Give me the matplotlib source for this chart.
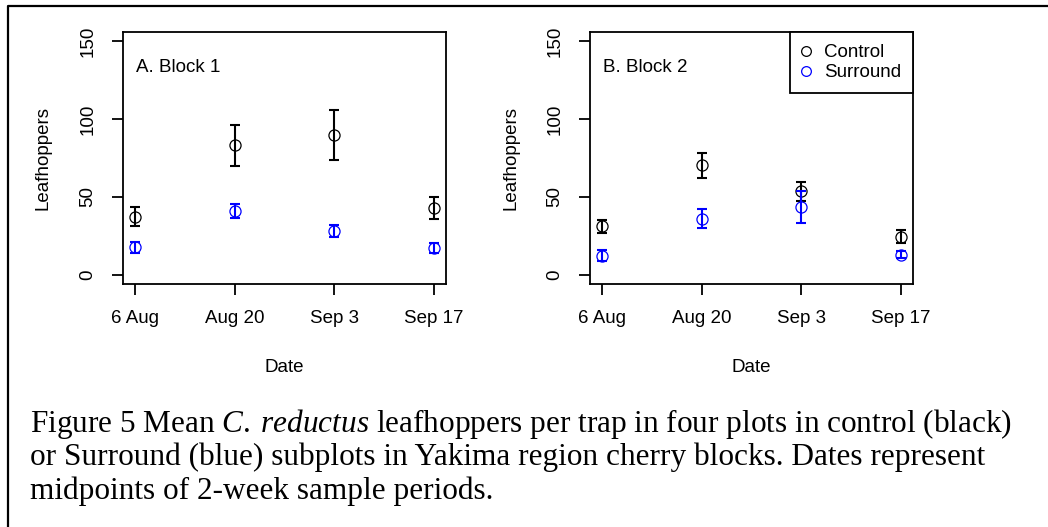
import matplotlib
matplotlib.use('Agg')
import matplotlib.pyplot as plt
from matplotlib.lines import Line2D

plt.rcParams['font.family'] = 'Liberation Sans'
plt.rcParams['mathtext.fontset'] = 'custom'
plt.rcParams['mathtext.rm'] = 'Liberation Serif'
plt.rcParams['mathtext.it'] = 'Liberation Serif:italic'

# sample dates (midpoints of 2-week periods)
dates = ['6 Aug', 'Aug 20', 'Sep 3', 'Sep 17']
x = [1, 2, 3, 4]

# Block 1: mean leafhoppers per trap and standard errors
b1_control = [37.3, 83.1, 89.8, 43.0]
b1_control_se = [6.1, 13.3, 15.8, 7.1]
b1_surround = [17.5, 41.0, 28.0, 17.1]
b1_surround_se = [3.3, 4.5, 4.0, 3.4]

# Block 2
b2_control = [31.0, 70.3, 53.6, 24.4]
b2_control_se = [4.0, 8.2, 6.1, 4.0]
b2_surround = [12.2, 36.1, 43.8, 12.8]
b2_surround_se = [3.6, 5.9, 10.3, 2.1]

W, H = 1048, 527
FS = 13.5
fig = plt.figure(figsize=(W / 100, H / 100), dpi=100)


def panel(left_px, title, ctrl, ctrl_se, surr, surr_se, ylab_x):
    top_px, bot_px, width_px = 32, 284, 323
    ax = fig.add_axes([left_px / W, 1 - bot_px / H,
                       width_px / W, (bot_px - top_px) / H])
    ax.errorbar(x, ctrl, yerr=ctrl_se, fmt='none', ecolor='black',
                elinewidth=1.5, capsize=3.6, capthick=1.5)
    ax.plot(x, ctrl, 'o', mfc='none', mec='black', ms=8, mew=0.9)
    ax.errorbar(x, surr, yerr=surr_se, fmt='none', ecolor='#0000ff',
                elinewidth=1.5, capsize=3.6, capthick=1.5)
    ax.plot(x, surr, 'o', mfc='none', mec='#0000ff', ms=8, mew=0.9)

    ax.set_xlim(0.88, 4.12)
    ax.set_ylim(-6, 156)
    ax.set_xticks(x)
    ax.set_xticklabels(dates, fontsize=FS)
    ax.set_yticks([0, 50, 100, 150])
    ax.set_yticklabels(['0', '50', '100', '150'], fontsize=FS,
                       rotation=90, va='center')
    ax.tick_params(direction='out', length=8, width=1.3, pad=11)
    for s in ax.spines.values():
        s.set_linewidth(1.3)

    ax.set_xlabel('Date', fontsize=FS)
    ax.xaxis.set_label_coords(0.5, -0.33)
    ax.xaxis.label.set_va('center')
    ax.set_ylabel('Leafhoppers', fontsize=FS)
    ax.yaxis.set_label_coords(ylab_x, 0.5)
    ax.yaxis.label.set_va('center')

    ax.text(0.04, 0.86, title, transform=ax.transAxes, fontsize=FS,
            va='center', ha='left')
    return ax


ax1 = panel(123, 'A. Block 1', b1_control, b1_control_se,
            b1_surround, b1_surround_se, -0.248)
ax2 = panel(590, 'B. Block 2', b2_control, b2_control_se,
            b2_surround, b2_surround_se, -0.245)

handles = [Line2D([], [], ls='none', marker='o', mfc='none', mec='black',
                  ms=7, mew=0.9),
           Line2D([], [], ls='none', marker='o', mfc='none', mec='#0000ff',
                  ms=7, mew=0.9)]
leg = ax2.legend(handles, ['Control', 'Surround'], loc='upper right',
                 borderaxespad=0, fancybox=False, fontsize=FS,
                 handlelength=0.4, handletextpad=0.76, labelspacing=0.15,
                 borderpad=0.65, framealpha=1)
leg.get_frame().set_edgecolor('black')
leg.get_frame().set_linewidth(1.3)

# outer frame (left and top edges)
fig.add_artist(Line2D([8 / W, 8 / W, 1], [0, 1 - 6 / H, 1 - 6 / H],
                      color='black', lw=1.6))

# caption
cap_lines = [r'Figure 5 Mean $\mathit{C.}\hspace{0.25}\mathit{reductus}$ leafhoppers per trap in four plots in control (black)',
             'or Surround (blue) subplots in Yakima region cherry blocks. Dates represent',
             'midpoints of 2-week sample periods.']
cap_y = [432, 465.5, 499]
for line, yb in zip(cap_lines, cap_y):
    fig.text(30 / W, 1 - yb / H, line, family='Liberation Serif',
             fontsize=22.5, va='baseline', ha='left')

fig.savefig('out.png', dpi=100)
